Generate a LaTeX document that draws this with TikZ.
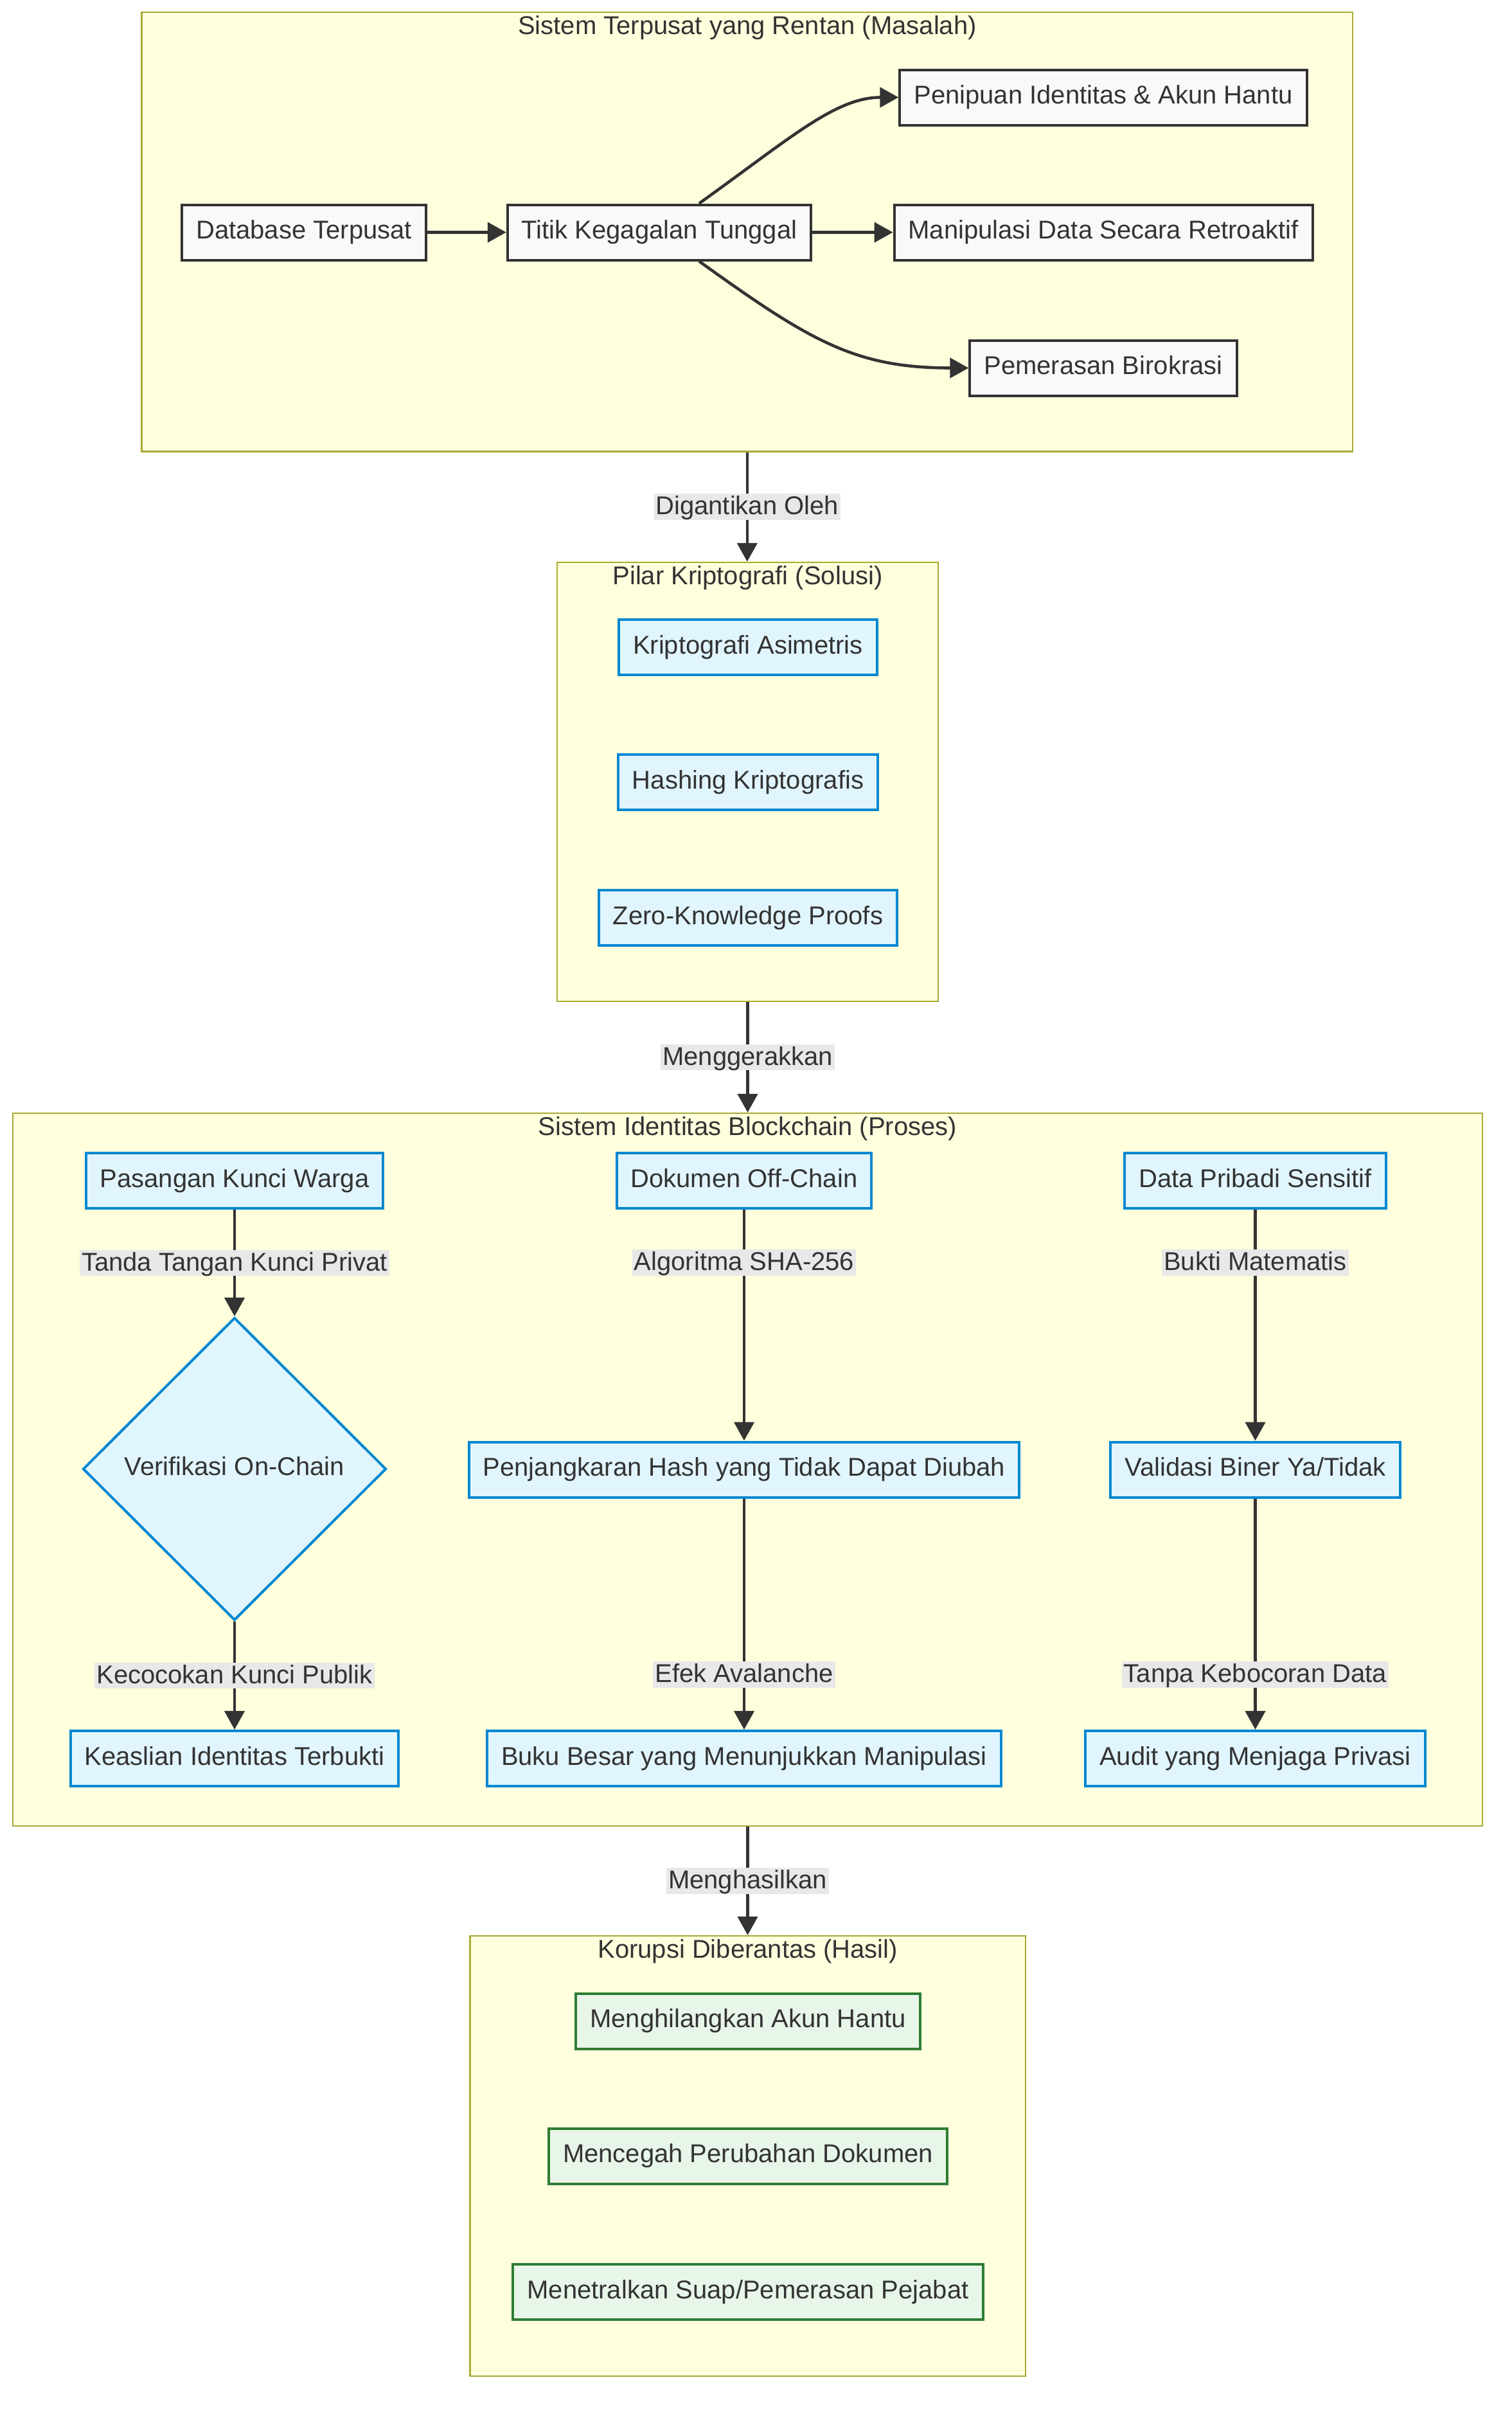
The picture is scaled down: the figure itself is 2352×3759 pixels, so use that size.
\documentclass[tikz,border=0pt]{standalone}
\usepackage{fontspec}
\setmainfont{Liberation Sans}
\usetikzlibrary{arrows.meta,shapes.geometric}
\definecolor{txt}{HTML}{333333}
\definecolor{clfill}{HTML}{FFFFDE}
\definecolor{clline}{HTML}{AAAA33}
\definecolor{pfill}{HTML}{F9F9F9}
\definecolor{bfill}{HTML}{E1F5FE}
\definecolor{bline}{HTML}{0288D1}
\definecolor{gfill}{HTML}{E8F5E9}
\definecolor{gline}{HTML}{2E7D32}
\definecolor{lblbg}{HTML}{E8E8E8}
\definecolor{edgec}{HTML}{333333}
\begin{document}
\begin{tikzpicture}[x=0.5pt,y=-0.5pt,
  every node/.style={font=\fontsize{20pt}{24pt}\selectfont, text=txt},
  cluster/.style={rectangle, draw=clline, fill=clfill, line width=1.2pt, inner sep=0pt},
  ctitle/.style={anchor=base, inner sep=0pt},
  box/.style={rectangle, line width=2pt, minimum height=43pt, inner xsep=11pt, inner ysep=0pt, text height=15.4pt, text depth=5pt},
  probbox/.style={box, draw=edgec, fill=pfill},
  solbox/.style={box, draw=bline, fill=bfill},
  resbox/.style={box, draw=gline, fill=gfill},
  decbox/.style={diamond, draw=bline, fill=bfill, line width=2pt, minimum width=236pt, minimum height=235.5pt, inner sep=0pt, text height=15.4pt, text depth=5pt},
  lbl/.style={fill=lblbg, inner xsep=1.5pt, inner ysep=0pt, text height=16.2pt, text depth=4.2pt},
  arr/.style={draw=edgec, line width=2.3pt, -{Triangle[length=14.5pt,width=15.5pt]}},
]
\fill[white] (0,0) rectangle (2352,3759);
\useasboundingbox (0,0) rectangle (2352,3759);

% clusters
\node[cluster, minimum width=942.2pt, minimum height=341.75pt] (c1) at (1162.8,360.75) {};
\node[cluster, minimum width=296.5pt, minimum height=341.5pt] (c2) at (1163.5,1216.5) {};
\node[cluster, minimum width=1143.5pt, minimum height=554.5pt] (c3) at (1163.5,2286.5) {};
\node[cluster, minimum width=432.25pt, minimum height=342.5pt] (c4) at (1163.75,3354.5) {};

\node[ctitle] (t1) at (1163,53.6) {Sistem Terpusat yang Rentan (Masalah)};
\node[ctitle] (t2) at (1163.5,909.6) {Pilar Kriptografi (Solusi)};
\node[ctitle] (t3) at (1163.5,1766.6) {Sistem Identitas Blockchain (Proses)};
\node[ctitle] (t4) at (1163.75,3046.6) {Korupsi Diberantas (Hasil)};

% cluster 1
\node[probbox] (db) at (473,361.5) {Database Terpusat};
\node[probbox] (titik) at (1026,361.5) {Titik Kegagalan Tunggal};
\node[probbox] (penipuan) at (1717,151.5) {Penipuan Identitas \& Akun Hantu};
\node[probbox] (manip) at (1717,361.5) {Manipulasi Data Secara Retroaktif};
\node[probbox] (pemerasan) at (1717,572.5) {Pemerasan Birokrasi};

% cluster 2
\node[solbox] (ka) at (1164,1006.6) {Kriptografi Asimetris};
\node[solbox] (hk) at (1164,1217) {Hashing Kriptografis};
\node[solbox] (zk) at (1164,1428) {Zero-Knowledge Proofs};

% cluster 3
\node[solbox] (pk) at (365,1837) {Pasangan Kunci Warga};
\node[decbox] (vd) at (365,2285.5) {Verifikasi On-Chain};
\node[solbox] (ki) at (365,2736) {Keaslian Identitas Terbukti};
\node[solbox] (dok) at (1158,1837) {Dokumen Off-Chain};
\node[solbox] (pj) at (1158,2286.5) {Penjangkaran Hash yang Tidak Dapat Diubah};
\node[solbox] (bb) at (1158,2736) {Buku Besar yang Menunjukkan Manipulasi};
\node[solbox] (dp) at (1953.5,1837) {Data Pribadi Sensitif};
\node[solbox] (vb) at (1953.5,2286.5) {Validasi Biner Ya/Tidak};
\node[solbox] (au) at (1953.5,2736) {Audit yang Menjaga Privasi};

% cluster 4
\node[resbox] (mh) at (1164,3144.5) {Menghilangkan Akun Hantu};
\node[resbox] (mc) at (1164,3354.5) {Mencegah Perubahan Dokumen};
\node[resbox] (mn) at (1164,3565.6) {Menetralkan Suap/Pemerasan Pejabat};

% edges cluster 1
\draw[arr] (db) -- (titik);
\draw[arr] (titik) -- (manip);
\draw[arr] ([xshift=31pt]titik.north) .. controls (1230,215) and (1300,151.5) .. (penipuan.west);
\draw[arr] ([xshift=31pt]titik.south) .. controls (1260,530) and (1330,572.5) .. (pemerasan.west);

% cluster to cluster
\draw[arr] (c1.south) -- node[lbl] {Digantikan Oleh} (c1.south |- c2.north);
\draw[arr] (c2.south) -- node[lbl] {Menggerakkan} (c2.south |- c3.north);
\draw[arr] (c3.south) -- node[lbl] {Menghasilkan} (c3.south |- c4.north);

% cluster 3 edges
\draw[arr] (pk) -- node[lbl] {Tanda Tangan Kunci Privat} (vd);
\draw[arr] (vd) -- node[lbl] {Kecocokan Kunci Publik} (ki);
\draw[arr] (dok) -- node[lbl,pos=0.229] {Algoritma SHA-256} (pj);
\draw[arr] (pj) -- node[lbl,pos=0.762] {Efek Avalanche} (bb);
\draw[arr] (dp) -- node[lbl,pos=0.229] {Bukti Matematis} (vb);
\draw[arr] (vb) -- node[lbl,pos=0.762] {Tanpa Kebocoran Data} (au);
\end{tikzpicture}
\end{document}
